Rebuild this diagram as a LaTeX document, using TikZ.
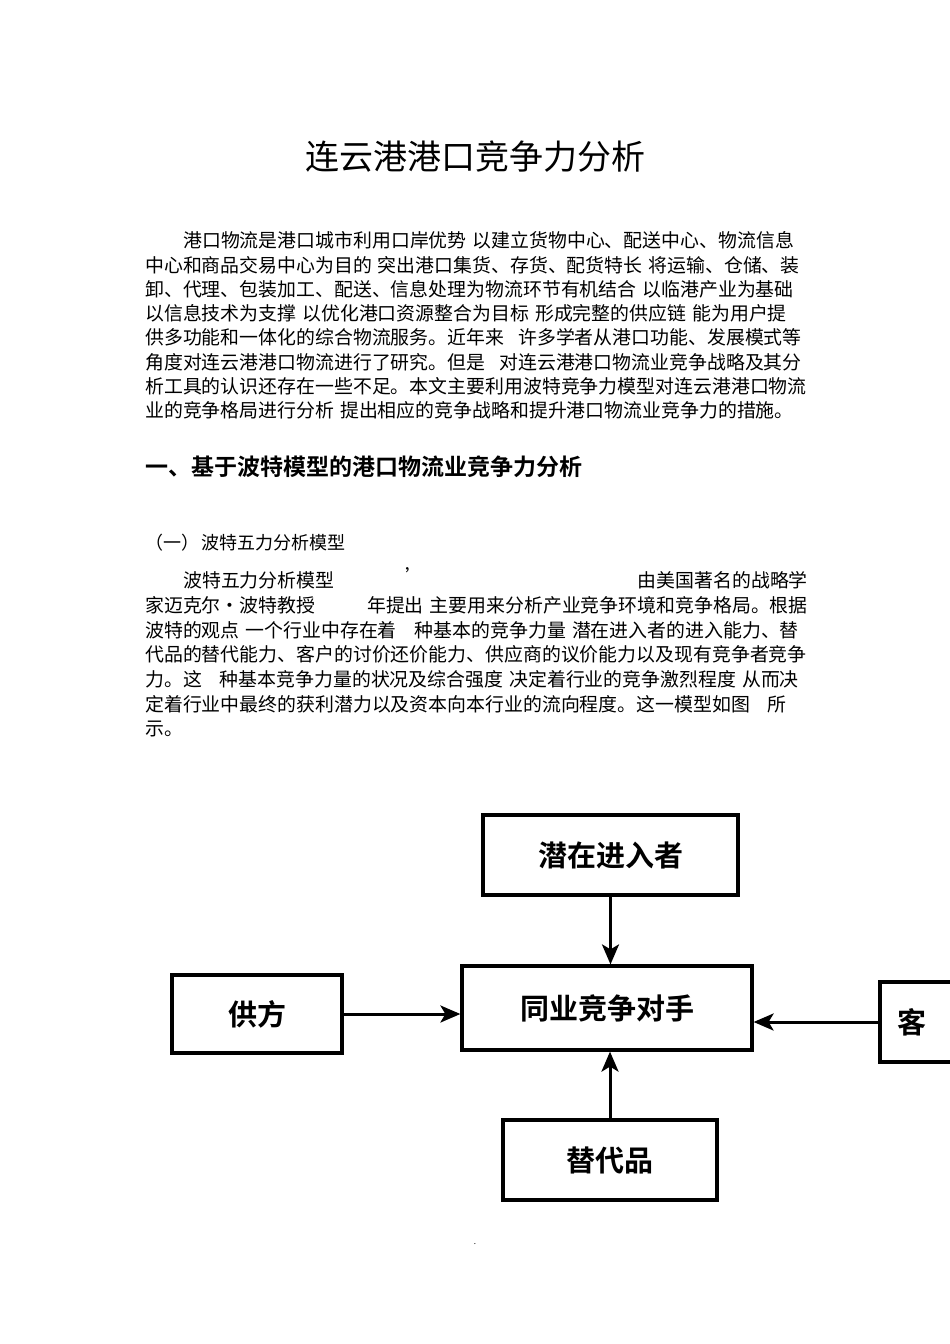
\documentclass[tikz,border=0pt]{standalone}
\usepackage{fontspec}
\setmainfont{Noto Sans CJK SC}
\newfontfamily\cjkb{Noto Sans CJK SC Bold}
\usetikzlibrary{arrows.meta}
\tikzset{
  body/.style={anchor=west,inner sep=0pt,font=\fontsize{18.9}{20}\selectfont},
  box/.style={draw,line width=3.2pt,inner sep=0pt,font=\cjkb\fontsize{29}{30}\selectfont},
  arr/.style={line width=3pt,-{Stealth[length=20pt,width=17pt,inset=5pt]}}
}
\begin{document}
\begin{tikzpicture}[x=1pt,y=-1pt]
\clip (0,0) rectangle (950,1344);
\fill[white] (0,0) rectangle (950,1344);
\node[font=\fontsize{34}{36}\selectfont] (title) at (475,157) {连云港港口竞争力分析};
\node[body] (p1) at (183,240) {港口物流是港口城市利用口岸优势\hspace{6pt}以建立货物中心、配送中心、物流信息};
\node[body] (p2) at (145,265) {中心和商品交易中心为目的\hspace{6pt}突出港口集货、存货、配货特长\hspace{6pt}将运输、仓储、装};
\node[body] (p3) at (145,289) {卸、代理、包装加工、配送、信息处理为物流环节有机结合\hspace{6pt}以临港产业为基础};
\node[body] (p4) at (145,313) {以信息技术为支撑\hspace{6pt}以优化港口资源整合为目标\hspace{6pt}形成完整的供应链\hspace{6pt}能为用户提};
\node[body] (p5) at (145,337) {供多功能和一体化的综合物流服务。近年来\hspace{14pt}许多学者从港口功能、发展模式等};
\node[body] (p6) at (145,362) {角度对连云港港口物流进行了研究。但是\hspace{14pt}对连云港港口物流业竞争战略及其分};
\node[body] (p7) at (145,386) {析工具的认识还存在一些不足。本文主要利用波特竞争力模型对连云港港口物流};
\node[body] (p8) at (145,410) {业的竞争格局进行分析\hspace{6pt}提出相应的竞争战略和提升港口物流业竞争力的措施。};
\node[anchor=west,inner sep=0pt,font=\cjkb\fontsize{23}{24}\selectfont] (h1) at (145,467) {一、基于波特模型的港口物流业竞争力分析};
\node[anchor=west,inner sep=0pt,font=\fontsize{18}{19}\selectfont] (h2) at (145,543) {（一）\hspace{2pt}波特五力分析模型};
\node[body] (q1a) at (183,580) {波特五力分析模型};
\node[body] (q1b) at (405,576) {’};
\node[body,anchor=east] (q1c) at (808,580) {由美国著名的战略学};
\node[body] (q2a) at (145,605) {家迈克尔·波特教授};
\node[body,anchor=east] (q2b) at (808,605) {年提出\hspace{6pt}主要用来分析产业竞争环境和竞争格局。根据};
\node[body] (q3) at (145,630) {波特的观点\hspace{6pt}一个行业中存在着\hspace{18pt}种基本的竞争力量\hspace{6pt}潜在进入者的进入能力、替};
\node[body] (q4) at (145,654) {代品的替代能力、客户的讨价还价能力、供应商的议价能力以及现有竞争者竞争};
\node[body] (q5) at (145,679) {力。这\hspace{18pt}种基本竞争力量的状况及综合强度\hspace{6pt}决定着行业的竞争激烈程度\hspace{6pt}从而决};
\node[body] (q6) at (145,704) {定着行业中最终的获利潜力以及资本向本行业的流向程度。这一模型如图\hspace{18pt}所};
\node[body] (q7) at (145,729) {示。};
% diagram
\node[box,minimum width=255pt,minimum height=80pt] (ent) at (610.5,855) {潜在进入者};
\node[box,minimum width=290pt,minimum height=84pt] (comp) at (607,1008) {同业竞争对手};
\node[box,minimum width=170pt,minimum height=78pt] (sup) at (257,1014) {供方};
\node[box,minimum width=214pt,minimum height=80pt] (sub) at (610,1160) {替代品};
\node[box,minimum width=150pt,minimum height=80pt,text width=116pt,align=left] (cus) at (955,1022) {客};
\draw[arr] (ent) -- (ent|-comp.north);
\draw[arr] (sub) -- (sub|-comp.south);
\draw[arr] (sup) -- (sup-|comp.west);
\draw[arr] (cus.west) -- (comp.east|-cus.west);
\node[font=\fontsize{8}{8}\selectfont] (dot) at (475,1244) {.};
\end{tikzpicture}
\end{document}
